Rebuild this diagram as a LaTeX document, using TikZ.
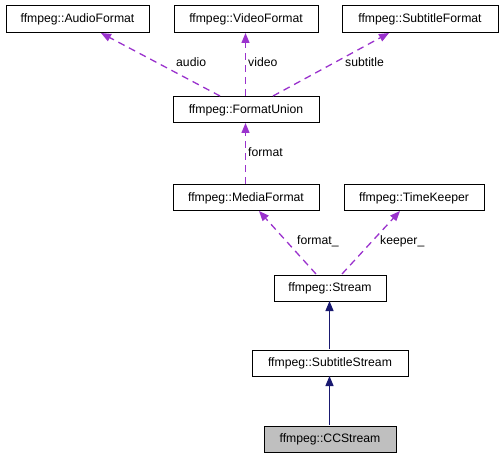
\documentclass[tikz,border=0pt]{standalone}
\usepackage{fontspec}
\setmainfont{Liberation Sans}
\usetikzlibrary{arrows.meta}
\definecolor{dep}{HTML}{9A32CD}
\definecolor{inh}{HTML}{191970}
\definecolor{cur}{HTML}{BFBFBF}
\tikzset{
  cls/.style={draw=black, line width=1bp, inner sep=0pt, anchor=north west, font=\fontsize{12.2bp}{14bp}\selectfont},
  depedge/.style={draw=dep, line width=1.3bp, dash pattern=on 7bp off 5bp, -{Triangle[length=10bp,width=8bp,fill=dep]}},
  inhedge/.style={draw=inh, line width=1.2bp, -{Triangle[length=10bp,width=8bp,fill=inh]}},
  lbl/.style={font=\fontsize{12.2bp}{14bp}\selectfont, inner sep=0pt, anchor=west}
}
\newcommand{\clsbox}[6]{% name, x1,y1,x2,y2, text
  \node[cls, minimum width=#4bp-#2bp, minimum height=#5bp-#3bp] (#1) at (#2,#3) {#6};}
\begin{document}
\begin{tikzpicture}[x=1bp,y=-1bp]
\useasboundingbox (0,0) rectangle (501,457);
\clsbox{audio}{5.5}{5.5}{148.5}{32.5}{ffmpeg::AudioFormat}
\clsbox{video}{173.5}{5.5}{317.5}{32.5}{ffmpeg::VideoFormat}
\clsbox{subf}{341.5}{5.5}{497.5}{32.5}{ffmpeg::SubtitleFormat}
\clsbox{funion}{172.5}{96.5}{318.5}{122.5}{ffmpeg::FormatUnion}
\clsbox{media}{172.5}{184.5}{318.5}{210.5}{ffmpeg::MediaFormat}
\clsbox{keeper}{343.5}{184.5}{483.5}{210.5}{ffmpeg::TimeKeeper}
\clsbox{stream}{273.5}{274.5}{385.5}{300.5}{ffmpeg::Stream}
\clsbox{substream}{251.5}{349.5}{407.5}{375.5}{ffmpeg::SubtitleStream}
\node[cls, fill=cur, minimum width=132bp, minimum height=26bp] (cc) at (263.5,425.5) {ffmpeg::CCStream};

\coordinate (fa) at (220,96);
\coordinate (fv) at (245.5,96);
\coordinate (fs) at (273,96);
\coordinate (ta) at (101,33);
\coordinate (tv) at (245.5,33);
\coordinate (ts) at (389,33);
\draw[depedge] (fa) -- (ta);
\draw[depedge] (fv) -- (tv);
\draw[depedge] (fs) -- (ts);
\node[lbl] (la) at (176,62) {audio};
\node[lbl] (lv) at (248,62) {video};
\node[lbl] (ls) at (345,62) {subtitle};

\coordinate (mf) at (245.5,184);
\coordinate (fb) at (245.5,123);
\draw[depedge] (mf) -- (fb);
\node[lbl] (lf) at (248,152) {format};

\coordinate (s1) at (316,274);
\coordinate (s2) at (342,274);
\coordinate (mb) at (259,211);
\coordinate (kb) at (400,211);
\draw[depedge] (s1) -- (mb);
\draw[depedge] (s2) -- (kb);
\node[lbl] (lf2) at (297,241) {format\_};
\node[lbl] (lk) at (380,241) {keeper\_};

\coordinate (sst) at (329.5,349);
\coordinate (stb) at (329.5,301);
\draw[inhedge] (sst) -- (stb);
\coordinate (cct) at (329.5,425);
\coordinate (ssb) at (329.5,376);
\draw[inhedge] (cct) -- (ssb);
\end{tikzpicture}
\end{document}
